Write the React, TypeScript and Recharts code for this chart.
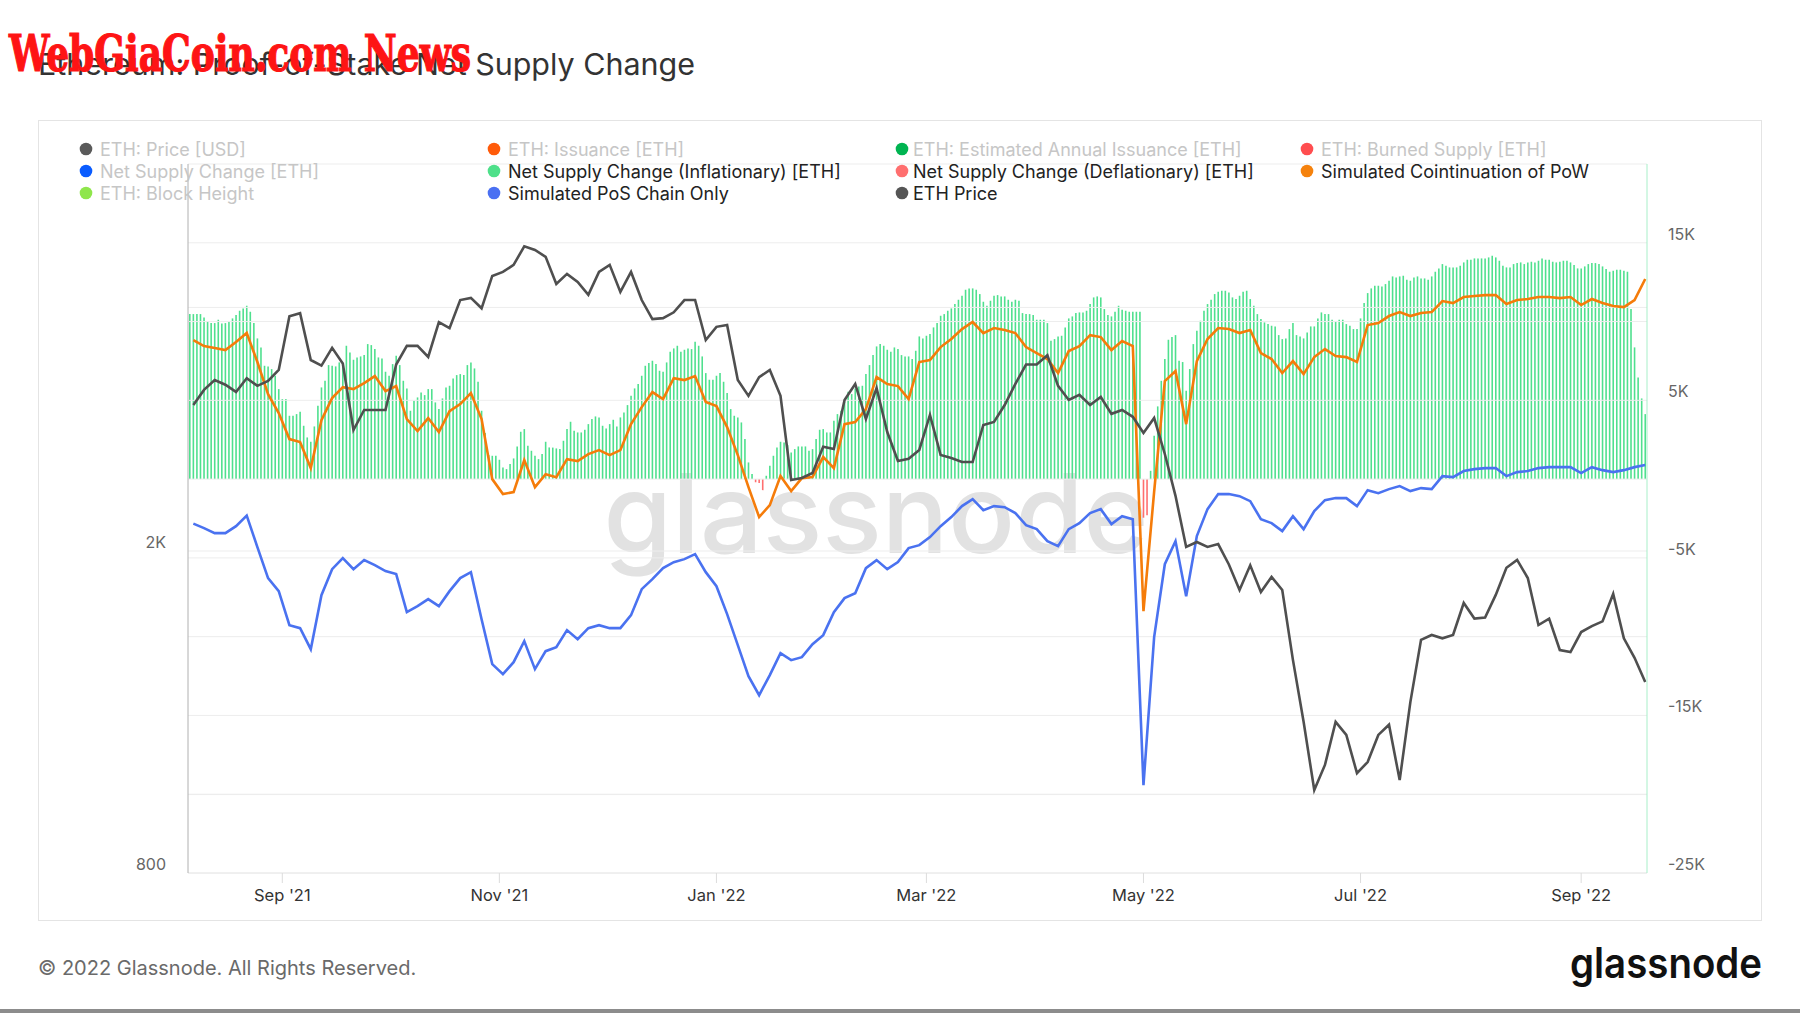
import React from "react";
import { ComposedChart, Bar, Line, XAxis, YAxis, ReferenceLine, Cell } from "recharts";

const FONT = "Inter, 'Noto Sans', sans-serif";

// daily net supply change [ETH], 6 Aug 2021 .. 19 Sep 2022 (410 days)
const netSupply = [
  10474, 10474, 10474, 10474, 10263, 9988, 9903, 9903, 10115, 9882,
  9903, 9988, 10199, 10411, 10686, 10834, 11003, 10622, 9903, 8930,
  8358, 7194, 7152, 6983, 6560, 5713, 5078, 5078, 4020, 4020,
  4126, 4274, 3386, 2645, 2370, 3343, 4655, 5819, 6242, 7237,
  7194, 7152, 7406, 7300, 8464, 8041, 7575, 7723, 7787, 7872,
  8570, 8506, 8252, 7723, 7660, 6814, 6560, 7300, 7829, 7237,
  6242, 5756, 4338, 4973, 5184, 5502, 5332, 5713, 5713, 4867,
  4444, 5121, 5819, 5925, 6390, 6602, 6665, 6602, 7237, 7406,
  7025, 6179, 4338, 2920, 1524, 1481, 1481, 1227, 741, 635,
  952, 1312, 2074, 3005, 3174, 2116, 1799, 1481, 1270, 1587,
  2370, 2010, 2000, 1947, 1904, 2433, 3174, 3640, 3068, 2962,
  2962, 3132, 3491, 3809, 3978, 3915, 3386, 3216, 3491, 3766,
  3343, 3915, 4232, 4698, 5290, 5756, 6031, 6560, 7194, 7364,
  7512, 7300, 6877, 6814, 7406, 8083, 8295, 8464, 8083, 8210,
  8295, 8252, 8718, 8464, 7787, 6729, 6306, 6306, 6560, 6729,
  6179, 5459, 4444, 4020, 3915, 3597, 2539, 1058, 317, -200,
  -250, -700, 212, 846, 1481, 2010, 2370, 2328, 2158, 1693,
  1904, 2074, 2074, 2074, 1799, 1904, 2539, 3132, 3174, 2962,
  2962, 3703, 4126, 4338, 4909, 5544, 5396, 5756, 5882, 5925,
  6665, 7237, 7872, 8422, 8570, 8464, 8210, 8083, 8358, 8252,
  7872, 7787, 7787, 7618, 8146, 9056, 8930, 9099, 9205, 9628,
  9903, 10368, 10474, 10686, 10834, 11109, 11384, 11638, 12019, 12104,
  12104, 12019, 11744, 11257, 11003, 11321, 11638, 11680, 11596, 11596,
  11384, 11257, 11384, 11321, 10538, 10474, 10474, 10411, 10115, 10115,
  10115, 9903, 8781, 8887, 9056, 9099, 9628, 10199, 10326, 10538,
  10580, 10580, 10686, 11109, 11532, 11596, 11532, 10792, 10411, 10326,
  10622, 11003, 10749, 10686, 10622, 10622, 10622, 10622, -2450, -2300,
  527, 2750, 4615, 6240, 7620, 8845, 9015, 9140, 7510, 7430,
  5610, 6985, 8570, 9415, 10050, 10686, 11109, 11384, 11744, 11892,
  11955, 11955, 11850, 11532, 11426, 11638, 11892, 11955, 11426, 11003,
  10474, 10157, 9945, 9840, 9734, 9691, 9141, 8887, 8930, 9522,
  9903, 9141, 9056, 8930, 9310, 9691, 9691, 10199, 10580, 10474,
  10474, 10115, 9988, 10115, 10115, 9840, 9734, 9522, 9522, 10199,
  11172, 11807, 12104, 12273, 12273, 12230, 12379, 12590, 12865, 12802,
  12865, 12908, 12654, 12590, 12802, 12865, 12738, 12738, 12654, 12865,
  13162, 13373, 13648, 13542, 13437, 13437, 13437, 13542, 13754, 13923,
  13923, 14008, 14008, 14008, 14008, 14071, 14177, 14071, 13860, 13542,
  13437, 13437, 13648, 13712, 13754, 13648, 13754, 13796, 13754, 13860,
  14008, 13923, 13923, 13796, 13754, 13796, 13860, 13860, 13754, 13585,
  13373, 13373, 13500, 13648, 13712, 13712, 13648, 13500, 13331, 13162,
  13225, 13289, 13289, 13225, 13162, 10790, 8360, 6455, 5120, 4125,
];

// the three lines are read every 3rd day, starting at day 1
const ethPrice = [
  3030, 3163, 3254, 3210, 3145, 3270, 3200, 3245, 3348, 3900,
  3935, 3444, 3390, 3565, 3410, 2822, 2988, 2988, 2988, 3400,
  3585, 3585, 3474, 3835, 3770, 4085, 4110, 3990, 4375, 4425,
  4515, 4760, 4710, 4620, 4275, 4400, 4300, 4145, 4425, 4515,
  4180, 4425, 4085, 3870, 3880, 3945, 4085, 4085, 3646, 3785,
  3805, 3254, 3110, 3280, 3348, 3110, 2448, 2462, 2497, 2690,
  2674, 3074, 3217, 2912, 3180, 2806, 2584, 2600, 2666, 2946,
  2628, 2606, 2576, 2576, 2863, 2888, 3030, 3217, 3400, 3400,
  3490, 3200, 3074, 3120, 3030, 3100, 2955, 2988, 2930, 2798,
  2920, 2636, 2340, 2023, 2052, 2023, 2040, 1925, 1790, 1920,
  1780, 1858, 1790, 1467, 1230, 1013, 1088, 1230, 1185, 1063,
  1097, 1185, 1220, 1042, 1301, 1553, 1575, 1560, 1575, 1725,
  1650, 1655, 1765, 1907, 1950, 1852, 1620, 1650, 1509, 1500,
  1588, 1615, 1637, 1770, 1560, 1476, 1378,
];

const powSim = [
  8825, 8445, 8320, 8190, 8700, 9270, 7430, 5395, 4190, 2540,
  2350, 700, 3745, 5140, 5840, 5715, 6095, 6540, 5585, 5905,
  3810, 3047, 3875, 2985, 4315, 4760, 5460, 3810, 0, -950,
  -825, 1205, -510, 315, 125, 1270, 1140, 1590, 1840, 1525,
  1840, 3490, 4570, 5525, 5080, 6410, 6285, 6540, 4890, 4635,
  3300, 1525, -510, -2410, -1650, 190, -760, 65, 125, 1400,
  700, 3490, 3620, 4445, 6475, 6030, 5905, 5080, 7430, 7555,
  8380, 8890, 9525, 9970, 9270, 9590, 9460, 9270, 8380, 8000,
  7620, 6730, 8125, 8445, 9140, 9015, 8190, 8760, 8445, -8380,
  -800, 6220, 6857, 3490, 7490, 8890, 9590, 9525, 9270, 9460,
  8000, 7620, 6730, 7490, 6665, 7745, 8255, 7810, 7745, 7430,
  9780, 9905, 10350, 10600, 10350, 10540, 10600, 11300, 11175, 11555,
  11620, 11680, 11680, 11110, 11365, 11430, 11555, 11555, 11490, 11555,
  11050, 11430, 11175, 10985, 10920, 11365, 12700,
];

const posSim = [
  -2825, -3110, -3430, -3430, -2985, -2320, -4320, -6285, -7110, -9270,
  -9460, -10795, -7365, -5715, -5015, -5715, -5140, -5460, -5840, -6030,
  -8445, -8065, -7620, -8065, -7110, -6285, -5905, -8890, -11745, -12380,
  -11620, -10285, -12060, -10920, -10665, -9585, -10160, -9460, -9270, -9460,
  -9460, -8635, -6985, -6350, -5650, -5270, -5080, -4760, -5905, -6795,
  -8570, -10540, -12510, -13715, -12445, -11050, -11490, -11300, -10475, -9905,
  -8445, -7555, -7240, -5650, -5140, -5715, -5270, -4380, -4190, -3680,
  -2985, -2410, -1715, -1270, -1970, -1715, -1780, -2160, -2920, -3175,
  -3935, -4255, -3175, -2795, -2160, -1905, -2857, -2350, -2540, -19430,
  -10030, -5400, -3935, -7430, -3620, -1905, -950, -950, -1080, -1400,
  -2540, -2795, -3300, -2350, -3175, -2030, -1335, -1205, -1205, -1715,
  -700, -890, -635, -445, -760, -570, -635, 190, 125, 510,
  635, 700, 700, 190, 445, 510, 700, 760, 760, 760,
  380, 760, 570, 445, 570, 760, 890,
];

const tickDays = [26, 87, 148, 207, 268, 329, 391];
const tickLabels = ["Sep '21", "Nov '21", "Jan '22", "Mar '22", "May '22", "Jul '22", "Sep '22"];
const priceTicks = [800, 2000];
const ethTicks = [-25000, -15000, -5000, 5000, 15000];
const ethGrid = [-20000, -15000, -10000, -5000, 0, 5000, 10000, 15000, 20000];
const priceGrid = [1000, 2000, 4000];

const legendRows: [string, string, boolean][][] = [
  [
    ["ETH: Price [USD]", "#5a5a5a", false],
    ["ETH: Issuance [ETH]", "#ff5b0a", false],
    ["ETH: Estimated Annual Issuance [ETH]", "#00b451", false],
    ["ETH: Burned Supply [ETH]", "#ff4d4f", false],
  ],
  [
    ["Net Supply Change [ETH]", "#0a5cff", false],
    ["Net Supply Change (Inflationary) [ETH]", "#4ee08a", true],
    ["Net Supply Change (Deflationary) [ETH]", "#ff6f6f", true],
    ["Simulated Cointinuation of PoW", "#f5820d", true],
  ],
  [
    ["ETH: Block Height", "#8fe64b", false],
    ["Simulated PoS Chain Only", "#4a70f2", true],
    ["ETH Price", "#555555", true],
  ],
];
const legendDotX = [86, 494, 902, 1307];
const legendTextX = [100, 508, 913, 1321];
const legendRowY = [149, 171, 193];

const fmtK = (v: number) => (Math.abs(v) >= 1000 ? `${v / 1000}K` : String(v));

const LeftTick = (p: any) => (
  <text x={p.x} y={p.y - 9} textAnchor="end" dominantBaseline="central" fontSize={16} fill="#666" fontFamily={FONT}>
    {fmtK(p.payload.value)}
  </text>
);

const RightTick = (p: any) => (
  <text x={p.x} y={p.y - 9} textAnchor="start" dominantBaseline="central" fontSize={16} fill="#666" fontFamily={FONT}>
    {fmtK(p.payload.value)}
  </text>
);

const BottomTick = (p: any) => (
  <text x={p.x} y={p.y + 8} textAnchor="middle" dominantBaseline="central" fontSize={16.5} fill="#333" fontFamily={FONT}>
    {tickLabels[tickDays.indexOf(p.payload.value)]}
  </text>
);

export default function App() {
  const rows = netSupply.map((v, i) => {
    const on = i >= 1 && (i - 1) % 3 === 0;
    const k = (i - 1) / 3;
    return {
      day: i,
      net: v,
      price: on ? ethPrice[k] : null,
      pow: on ? powSim[k] : null,
      pos: on ? posSim[k] : null,
    };
  });

  return (
    <div style={{ position: "absolute", left: 0, top: 0, width: 1800, height: 1013, background: "#fff", overflow: "hidden", fontFamily: FONT }}>
      {/* faint watermark behind the plot */}
      <svg width={1800} height={1013} style={{ position: "absolute", left: 0, top: 0 }}>
        <text x={876} y={553} textAnchor="middle" fontSize={110} fontWeight={500} fill="#e2e2e2" fontFamily={FONT} textLength={545} lengthAdjust="spacingAndGlyphs">
          glassnode
        </text>
      </svg>

      <div style={{ position: "absolute", left: 38, top: 120, width: 1722, height: 799, border: "1px solid #e4e4e4" }} />

      <div style={{ position: "absolute", left: 38, top: 120 }}>
        <ComposedChart width={1724} height={801} data={rows} margin={{ top: 44, right: 55, bottom: 18, left: 90 }}>
          <XAxis
            dataKey="day"
            ticks={tickDays}
            interval={0}
            height={30}
            tick={BottomTick}
            tickSize={10}
            tickMargin={4}
            tickLine={{ stroke: "#dcdcdc" }}
            axisLine={{ stroke: "#e0e0e0" }}
          />
          <YAxis
            yAxisId="price"
            orientation="left"
            type="number"
            scale="log"
            domain={[800, 6016]}
            allowDataOverflow
            ticks={priceTicks}
            width={60}
            tick={LeftTick}
            tickSize={0}
            tickMargin={22}
            axisLine={{ stroke: "#b0b0b0" }}
            tickLine={false}
          />
          <YAxis
            yAxisId="eth"
            orientation="right"
            type="number"
            domain={[-25000, 20000]}
            allowDataOverflow
            ticks={ethTicks}
            width={60}
            tick={RightTick}
            tickSize={0}
            tickMargin={21}
            axisLine={{ stroke: "#a8efc9" }}
            tickLine={false}
          />
          {ethGrid.map((v) => (
            <ReferenceLine key={"e" + v} yAxisId="eth" y={v} stroke="#ededed" />
          ))}
          {priceGrid.map((v) => (
            <ReferenceLine key={"p" + v} yAxisId="price" y={v} stroke="#ededed" />
          ))}
          <Bar yAxisId="eth" dataKey="net" barSize={1.6} isAnimationActive={false}>
            {rows.map((r) => (
              <Cell key={r.day} fill={r.net < 0 ? "#ff6f6f" : "#4fe08e"} />
            ))}
          </Bar>
          <Line yAxisId="eth" dataKey="pos" stroke="#4a72f0" strokeWidth={2.6} dot={false} connectNulls type="linear" isAnimationActive={false} />
          <Line yAxisId="eth" dataKey="pow" stroke="#f57c0a" strokeWidth={2.6} dot={false} connectNulls type="linear" isAnimationActive={false} />
          <Line yAxisId="price" dataKey="price" stroke="#4f4f4f" strokeWidth={2.6} dot={false} connectNulls type="linear" isAnimationActive={false} />
        </ComposedChart>
      </div>

      <svg width={1800} height={1013} style={{ position: "absolute", left: 0, top: 0, pointerEvents: "none" }}>
        <text x={38} y={75} fontSize={30} fill="#333" fontFamily={FONT} textLength={657} lengthAdjust="spacingAndGlyphs">
          Ethereum: Proof-of-Stake Net Supply Change
        </text>
        <text x={9} y={71} fontSize={50} fontWeight={700} fill="#fe1414" stroke="#fe1414" strokeWidth={1.2} fontFamily="'DejaVu Serif Condensed', 'DejaVu Serif', serif" textLength={462} lengthAdjust="spacingAndGlyphs">
          WebGiaCoin.com News
        </text>

        {legendRows.map((row, r) =>
          row.map(([label, color, active], c) => (
            <g key={label}>
              <circle cx={legendDotX[c]} cy={legendRowY[r]} r={6.3} fill={color} />
              <text x={legendTextX[c]} y={legendRowY[r]} dominantBaseline="central" fontSize={18} fill={active ? "#222" : "#c6c6c6"} fontFamily={FONT}>
                {label}
              </text>
            </g>
          ))
        )}

        <text x={38} y={968} dominantBaseline="central" fontSize={20} fill="#6a6a6a" fontFamily={FONT}>
          © 2022 Glassnode. All Rights Reserved.
        </text>
        <text x={1762} y={978} textAnchor="end" fontSize={42} fontWeight={600} fill="#111" fontFamily={FONT} textLength={192} lengthAdjust="spacingAndGlyphs">
          glassnode
        </text>
      </svg>
      <div style={{ position: "absolute", left: 0, top: 1009, width: 1800, height: 4, background: "#8c8c8c" }} />
    </div>
  );
}
